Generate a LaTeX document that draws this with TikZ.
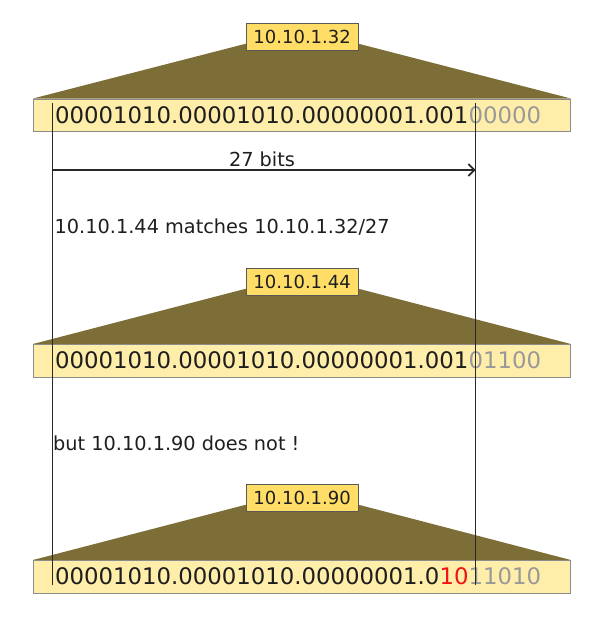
\documentclass[tikz,border=0pt]{standalone}
\usepackage{fontspec}
\setmainfont{DejaVu Sans}
\usetikzlibrary{arrows.meta,calc,backgrounds}
\definecolor{trapcol}{RGB}{125,110,56}
\definecolor{barfill}{RGB}{255,238,170}
\definecolor{lblfill}{RGB}{255,221,102}
\definecolor{bitgray}{RGB}{153,153,153}
\definecolor{linecol}{RGB}{40,40,40}
\definecolor{bitred}{RGB}{240,20,20}
\definecolor{txtcol}{RGB}{30,30,30}
\begin{document}
\begin{tikzpicture}[x=1pt,y=-1pt,
  bar/.style={draw=black!45, fill=barfill, minimum width=537pt, minimum height=32.5pt, inner sep=0pt, anchor=north west, line width=0.8pt},
  lbl/.style={draw=black!65, fill=lblfill, minimum width=112.5pt, minimum height=27pt, inner sep=0pt, anchor=north west, text=txtcol, font=\fontsize{18}{21}\selectfont, line width=0.8pt},
  bits/.style={anchor=west, inner sep=0pt, text=txtcol, font=\fontsize{22.8}{26}\selectfont},
  note/.style={anchor=west, inner sep=0pt, text=txtcol, font=\fontsize{19.3}{22}\selectfont},
  trap/.style={fill=trapcol},
  guide/.style={draw=linecol, line width=1.5pt}]
\useasboundingbox (0,0) rectangle (600,621);

% block 1
\node[lbl] (l1) at (245.5,23) {10.10.1.32};
\node[bar] (b1) at (33,98.5) {};
\node[bits] (t1) at (55,115) {00001010.00001010.00000001.001\textcolor{bitgray}{00000}};
% block 2
\node[lbl] (l2) at (245.5,268) {10.10.1.44};
\node[bar] (b2) at (33,344) {};
\node[bits] (t2) at (55,360.5) {00001010.00001010.00000001.001\textcolor{bitgray}{01100}};
% block 3
\node[lbl] (l3) at (245.5,484) {10.10.1.90};
\node[bar] (b3) at (33,560) {};
\node[bits] (t3) at (55,576.5) {00001010.00001010.00000001.0\textcolor{bitred}{10}\textcolor{bitgray}{11010}};

\begin{scope}[on background layer]
  \foreach \i in {1,2,3} {
    \fill[trap] ($(l\i.south west)+(0,-7)$) -- ($(l\i.south east)+(0,-7)$) -- (b\i.north east) -- (b\i.north west) -- cycle;
  }
\end{scope}

% guide lines
\coordinate (g1top) at (52.7,103);
\coordinate (g1bot) at (52.7,585);
\coordinate (g2top) at (475.5,103);
\coordinate (g2bot) at (475.5,585);
\draw[guide] (g1top) -- (g1bot);
\draw[guide] (g2top) -- (g2bot);

% arrow
\coordinate (a1) at (52.7,170);
\coordinate (a2) at (475.5,170);
\draw[guide, line width=1.4pt, -{Straight Barb[length=6pt,width=12pt,line width=1.6pt]}] (a1) -- (a2);
\node[note, anchor=center] (lab) at (262,159) {27 bits};

% notes
\node[note] (m1) at (54.5,227) {10.10.1.44 matches 10.10.1.32/27};
\node[note] (m2) at (53,443) {but 10.10.1.90 does not !};
\end{tikzpicture}
\end{document}
